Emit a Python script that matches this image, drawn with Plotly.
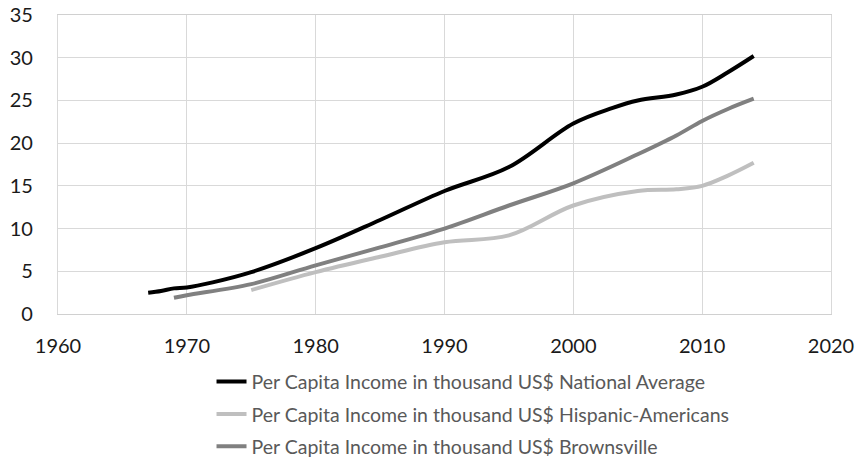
import plotly.graph_objects as go

nat_years = [1967, 1968, 1969, 1970, 1972, 1975, 1980, 1985, 1990, 1995, 2000, 2003, 2005, 2008, 2010, 2012, 2014]
nat_vals = [2.5, 2.7, 3.0, 3.1, 3.7, 4.9, 7.7, 11.0, 14.4, 17.2, 22.3, 24.1, 25.0, 25.7, 26.6, 28.3, 30.2]

his_years = [1975, 1980, 1985, 1990, 1995, 2000, 2005, 2008, 2010, 2012, 2014]
his_vals = [2.8, 4.9, 6.7, 8.4, 9.2, 12.7, 14.4, 14.6, 15.0, 16.2, 17.7]

bro_years = [1969, 1970, 1975, 1980, 1985, 1990, 1995, 2000, 2005, 2008, 2010, 2012, 2014]
bro_vals = [1.9, 2.2, 3.5, 5.7, 7.8, 10.0, 12.7, 15.3, 18.7, 20.9, 22.6, 24.0, 25.2]

names = [
    "Per Capita Income in thousand US$ National Average",
    "Per Capita Income in thousand US$ Hispanic-Americans",
    "Per Capita Income in thousand US$ Brownsville",
]
colors = ["#000000", "#bfbfbf", "#808080"]

x_ticks = [1960, 1970, 1980, 1990, 2000, 2010, 2020]
y_ticks = [0, 5, 10, 15, 20, 25, 30, 35]

fig = go.Figure()
for i, (xs, ys) in enumerate([(nat_years, nat_vals), (his_years, his_vals), (bro_years, bro_vals)]):
    fig.add_trace(go.Scatter(
        x=xs, y=ys, mode="lines", name=names[i],
        line=dict(color=colors[i], width=4, shape="spline", smoothing=1.0),
        legendgroup=f"g{i}",
    ))

font_family = "Lato, 'Open Sans', sans-serif"
fig.update_layout(
    width=858, height=461,
    margin=dict(l=58, r=27, t=15, b=147, autoexpand=False),
    paper_bgcolor="white", plot_bgcolor="white",
    font=dict(family=font_family, size=20, color="#1a1a1a"),
    showlegend=True,
    legend=dict(
        orientation="v", x=0.1986, xanchor="left", y=-0.162, yanchor="top",
        font=dict(size=19.5, color="#595959"),
        tracegroupgap=4, bgcolor="rgba(0,0,0,0)",
    ),
    xaxis=dict(
        range=[1960, 2020], tickvals=x_ticks, ticktext=[str(t) for t in x_ticks],
        showgrid=True, gridcolor="#d9d9d9", gridwidth=1.3,
        showline=True, linecolor="#d0d0d0", linewidth=1.3, mirror=True,
        zeroline=False, ticks="outside", ticklen=14, tickcolor="rgba(0,0,0,0)",
    ),
    yaxis=dict(
        range=[0, 35], tickvals=y_ticks, ticktext=[str(t) for t in y_ticks],
        showgrid=True, gridcolor="#d9d9d9", gridwidth=1.3,
        showline=True, linecolor="#d9d9d9", linewidth=1.3, mirror=True,
        zeroline=False, ticks="outside", ticklen=20, tickcolor="rgba(0,0,0,0)",
    ),
)

fig.write_html("out.html")
